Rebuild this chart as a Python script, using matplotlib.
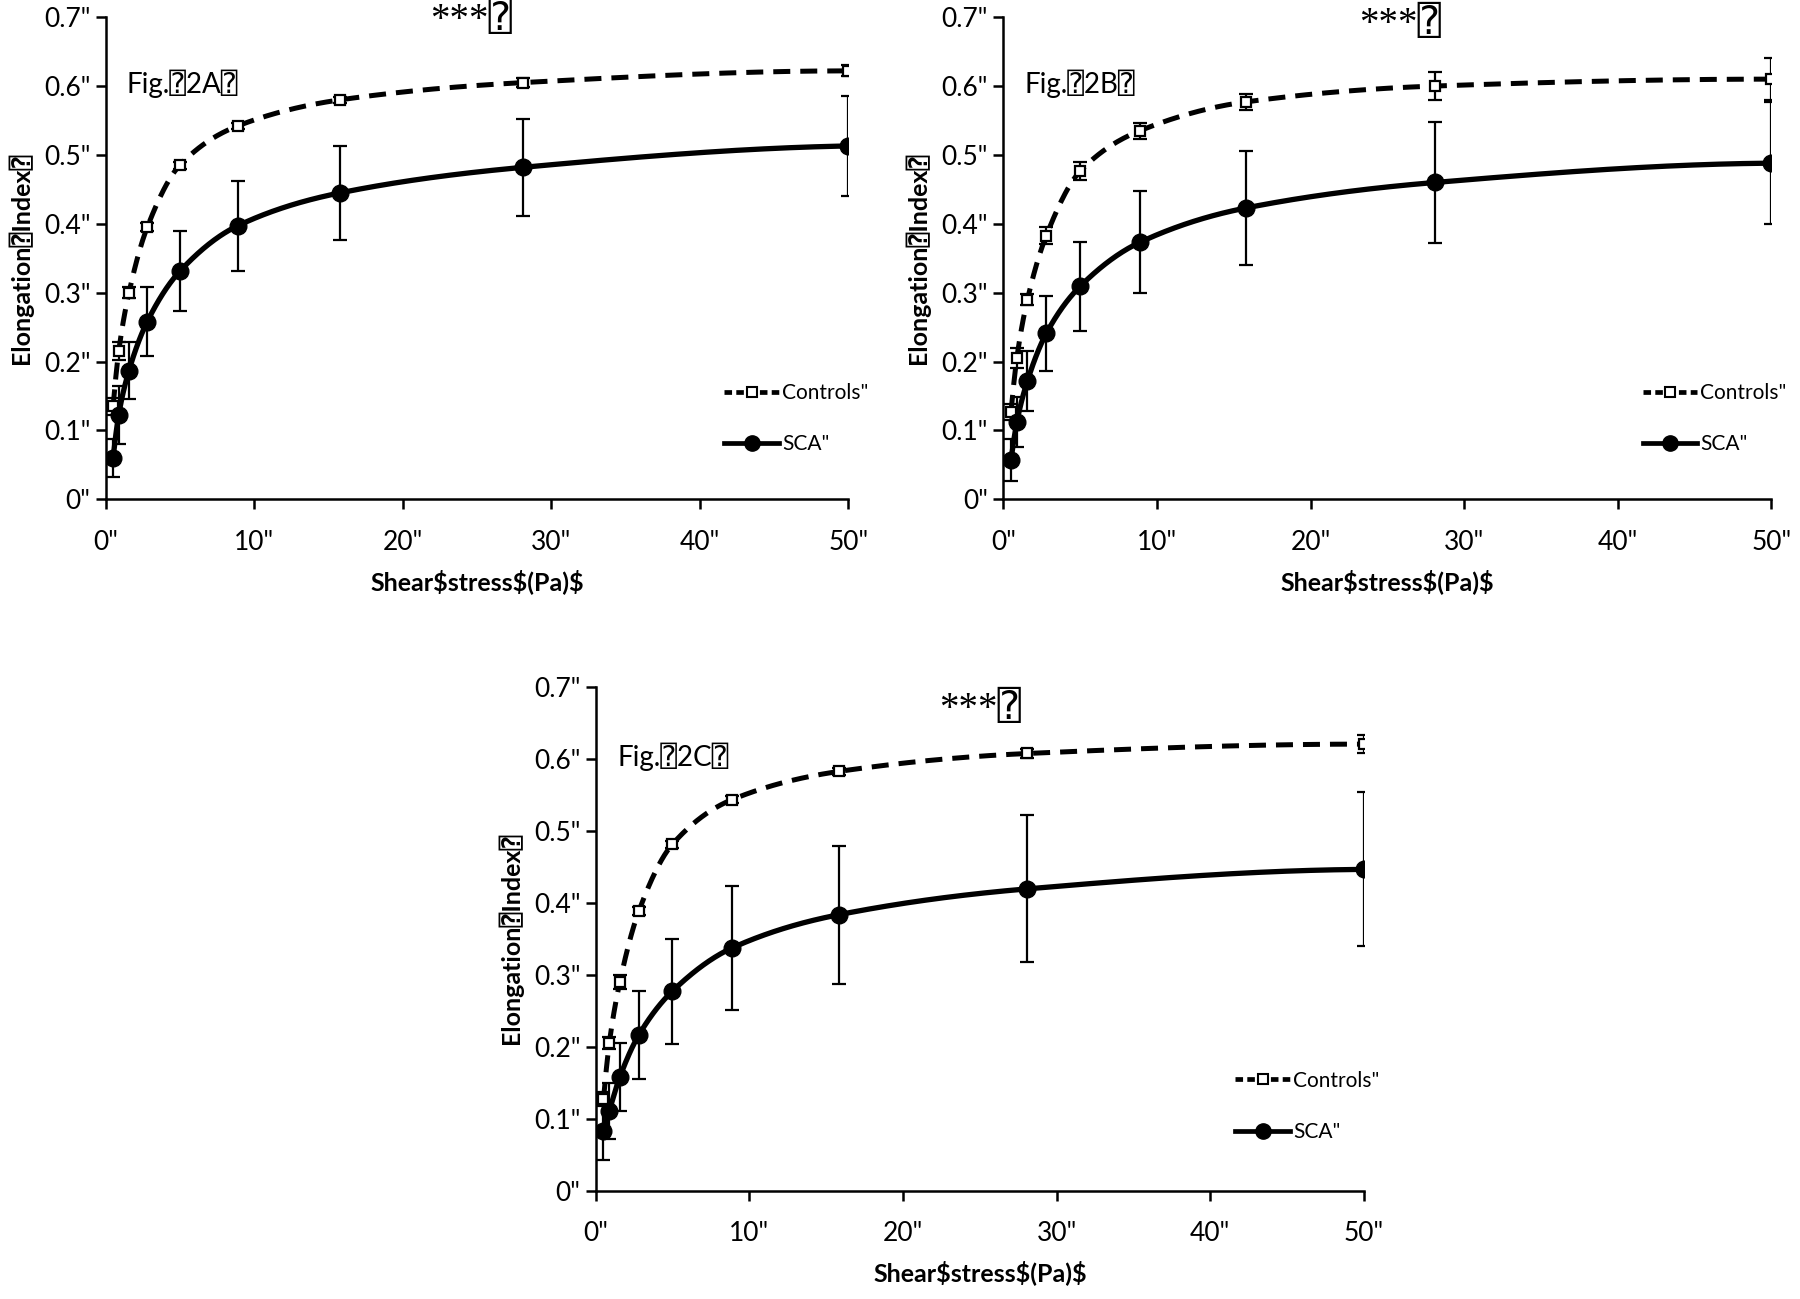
import numpy as np
import matplotlib
matplotlib.use("Agg")
import matplotlib.pyplot as plt
from matplotlib import font_manager
from matplotlib.lines import Line2D

# ---------------- data ----------------
shear = [0.5, 0.88, 1.57, 2.8, 4.99, 8.88, 15.8, 28.1, 50]

ctrl_A = [0.135, 0.215, 0.300, 0.395, 0.485, 0.542, 0.580, 0.605, 0.622]
ctrl_A_err = [0.012, 0.013, 0.008, 0.006, 0.005, 0.004, 0.004, 0.006, 0.008]
sca_A = [0.060, 0.123, 0.187, 0.258, 0.331, 0.397, 0.445, 0.482, 0.513]
sca_A_err = [0.028, 0.042, 0.042, 0.050, 0.058, 0.065, 0.068, 0.070, 0.072]

ctrl_B = [0.127, 0.205, 0.290, 0.383, 0.476, 0.535, 0.577, 0.600, 0.610]
ctrl_B_err = [0.012, 0.015, 0.008, 0.012, 0.013, 0.012, 0.012, 0.020, 0.030]
sca_B = [0.057, 0.112, 0.172, 0.241, 0.309, 0.373, 0.423, 0.460, 0.488]
sca_B_err = [0.030, 0.036, 0.044, 0.054, 0.064, 0.074, 0.083, 0.088, 0.089]

ctrl_C = [0.127, 0.205, 0.290, 0.388, 0.481, 0.543, 0.582, 0.607, 0.620]
ctrl_C_err = [0.010, 0.008, 0.010, 0.006, 0.005, 0.005, 0.005, 0.006, 0.012]
sca_C = [0.083, 0.111, 0.158, 0.216, 0.277, 0.337, 0.383, 0.419, 0.446]
sca_C_err = [0.040, 0.039, 0.047, 0.061, 0.073, 0.086, 0.096, 0.102, 0.107]

panel_names = ["Fig.\u23702A\u2370", "Fig.\u23702B\u2370", "Fig.\u23702C\u2370"]
signif_label = "***\u2370"
legend_labels = ['Controls"', 'SCA"']
xlabel_text = "Shear\\$stress\\$(Pa)\\$"
ylabel_text = "Elongation\u2370Index\u2370"
xticks = [0, 10, 20, 30, 40, 50]
xtick_labels = ['0"', '10"', '20"', '30"', '40"', '50"']
yticks = [0, 0.1, 0.2, 0.3, 0.4, 0.5, 0.6, 0.7]
ytick_labels = ['0"', '0.1"', '0.2"', '0.3"', '0.4"', '0.5"', '0.6"', '0.7"']

# ---------------- fonts ----------------
avail = {f.name for f in font_manager.fontManager.ttflist}
base = "Liberation Sans Narrow" if "Liberation Sans Narrow" in avail else "Lato"
FAM = [base, "DejaVu Sans", "DejaVu Sans Mono"]
plt.rcParams["font.family"] = FAM


def pchip(x, y, xs):
    x = np.asarray(x, float); y = np.asarray(y, float)
    h = np.diff(x); d = np.diff(y) / h
    n = len(x); m = np.zeros(n)
    for k in range(1, n - 1):
        if d[k - 1] * d[k] > 0:
            w1 = 2 * h[k] + h[k - 1]; w2 = h[k] + 2 * h[k - 1]
            m[k] = (w1 + w2) / (w1 / d[k - 1] + w2 / d[k])
    def endslope(h0, h1, d0, d1):
        s = ((2 * h0 + h1) * d0 - h0 * d1) / (h0 + h1)
        if np.sign(s) != np.sign(d0):
            s = 0
        elif np.sign(d0) != np.sign(d1) and abs(s) > abs(3 * d0):
            s = 3 * d0
        return s
    m[0] = endslope(h[0], h[1], d[0], d[1])
    m[-1] = endslope(h[-1], h[-2], d[-1], d[-2])
    idx = np.clip(np.searchsorted(x, xs) - 1, 0, n - 2)
    t = (xs - x[idx]) / h[idx]
    h00 = 2 * t**3 - 3 * t**2 + 1; h10 = t**3 - 2 * t**2 + t
    h01 = -2 * t**3 + 3 * t**2; h11 = t**3 - t**2
    return h00 * y[idx] + h10 * h[idx] * m[idx] + h01 * y[idx + 1] + h11 * h[idx] * m[idx + 1]


fig = plt.figure(figsize=(18, 12.99), dpi=100)
rects = [
    [0.0587, 0.6156, 0.4126, 0.3712],
    [0.5574, 0.6156, 0.4267, 0.3712],
    [0.3310, 0.0835, 0.4267, 0.3880],
]
datasets = [
    (ctrl_A, ctrl_A_err, sca_A, sca_A_err),
    (ctrl_B, ctrl_B_err, sca_B, sca_B_err),
    (ctrl_C, ctrl_C_err, sca_C, sca_C_err),
]
star_pos = [(24.6, 0.695), (25.8, 0.69), (25.0, 0.668)]

xs = np.linspace(shear[0], shear[-1], 800)
for i, (rect, (c, ce, s, se)) in enumerate(zip(rects, datasets)):
    ax = fig.add_axes(rect)
    # Controls
    ax.plot(xs, pchip(shear, c, xs), color="black", lw=3.6, ls=(0, (3.4, 2.0)), zorder=2)
    ax.errorbar(shear, c, yerr=ce, fmt="none", ecolor="black", elinewidth=1.6,
                capsize=5, capthick=1.6, zorder=3)
    ax.plot(shear, c, ls="none", marker="s", ms=7.5, mfc="white", mec="black", mew=1.6, zorder=4)
    # SCA
    ax.plot(xs, pchip(shear, s, xs), color="black", lw=3.8, zorder=2)
    ax.errorbar(shear, s, yerr=se, fmt="none", ecolor="black", elinewidth=1.6,
                capsize=5, capthick=1.6, zorder=3)
    ax.plot(shear, s, ls="none", marker="o", ms=12, mfc="black", mec="black", zorder=4)

    ax.set_xlim(0, 50)
    ax.set_ylim(0, 0.7)
    ax.set_xticks(xticks)
    ax.set_xticklabels(xtick_labels)
    ax.set_yticks(yticks)
    ax.set_yticklabels(ytick_labels)
    ax.tick_params(axis="both", direction="out", length=7, width=1.8, labelsize=19)
    ax.tick_params(axis="x", pad=15)
    ax.tick_params(axis="y", pad=4)
    for sp in ["top", "right"]:
        ax.spines[sp].set_visible(False)
    for sp in ["left", "bottom"]:
        ax.spines[sp].set_linewidth(1.8)
    ax.set_xlabel(xlabel_text, fontsize=18, fontweight="bold", labelpad=10)
    ax.set_ylabel(ylabel_text, fontsize=18, fontweight="bold", labelpad=8)

    ax.text(1.4, 0.603, panel_names[i], fontsize=20, ha="left", va="center")
    ax.text(star_pos[i][0], star_pos[i][1], signif_label, fontsize=28, ha="center", va="center",
            family=["Liberation Serif", "DejaVu Sans", "DejaVu Sans Mono"])

    handles = [
        Line2D([], [], color="black", lw=3.4, ls=(0, (1.6, 0.9)), marker="s", ms=7,
               mfc="white", mec="black", mew=1.5),
        Line2D([], [], color="black", lw=3.4, marker="o", ms=11, mfc="black"),
    ]
    ax.legend(handles, legend_labels, loc="center left", bbox_to_anchor=(0.822, 0.167),
              frameon=False, fontsize=15, handlelength=2.6, handletextpad=0.15,
              labelspacing=1.5, borderaxespad=0)

fig.savefig("out.png", dpi=100)
